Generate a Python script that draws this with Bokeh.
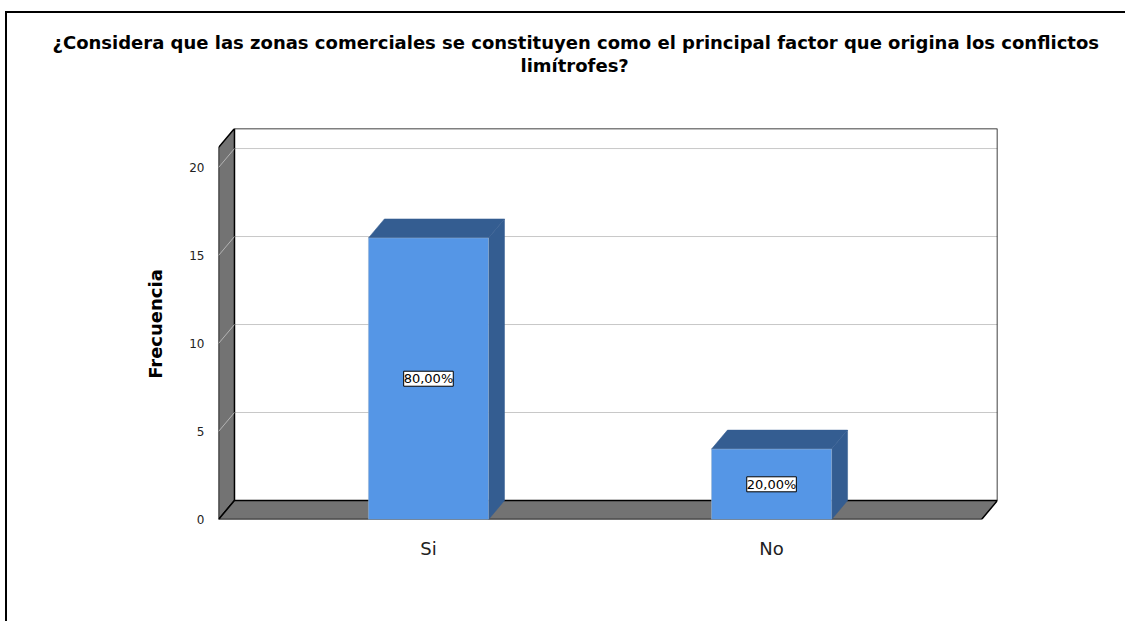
from bokeh.plotting import figure
from bokeh.models import ColumnDataSource, LabelSet, Title
from bokeh.core.properties import value
from bokeh.embed import file_html
from bokeh.resources import INLINE

# ---------------- data ----------------
title_lines = ["¿Considera que las zonas comerciales se constituyen como el principal factor que origina los conflictos",
               "limítrofes?"]
categories = ["Si", "No"]
counts = [16, 4]
percent_labels = ["80,00%", "20,00%"]
y_ticks = [0, 5, 10, 15, 20]
y_label = "Frecuencia"

# ---------------- style / geometry ----------------
FONT = "DejaVu Sans"
BAR_W = 0.35          # bar width in category units
DX = 0.0466           # 3D depth offset (x units)
DY = 1.08             # 3D depth offset (y units)
WALL_H = 21.14        # wall height (front)
PAD = 0.612           # floor extends this far beyond bar centres
FRONT = "#5596e6"
SHADE = "#345d91"
WALL = "#737373"
GRID = "#c8c8c8"

pos = [i + 0.5 for i in range(len(categories))]
X0 = pos[0] - PAD
X1 = pos[-1] + PAD

p = figure(width=1120, height=610, x_range=(X0, X1 + DX), y_range=(0, WALL_H + DY),
           output_backend="svg", toolbar_location=None, title=None,
           min_border_left=211, min_border_right=130, min_border_top=115, min_border_bottom=104)
p.styles = {"border-left": "2px solid black", "border-top": "2px solid black",
            "margin-left": "5px", "margin-top": "11px"}
p.outline_line_color = None
p.xgrid.visible = False
p.ygrid.visible = False
p.background_fill_color = "white"
p.border_fill_color = "white"

# back wall
p.quad(left=X0 + DX, right=X1 + DX, bottom=DY, top=WALL_H + DY, fill_color="white", line_color=None)
gt = y_ticks[1:]
p.segment(x0=[X0 + DX] * len(gt), y0=[t + DY for t in gt], x1=[X1 + DX] * len(gt), y1=[t + DY for t in gt],
          line_color=GRID, line_width=1)
p.line([X0 + DX, X1 + DX, X1 + DX], [WALL_H + DY, WALL_H + DY, DY], line_color="black", line_width=1.5)

# left wall
p.patch([X0, X0, X0 + DX, X0 + DX], [0, WALL_H, WALL_H + DY, DY], fill_color=WALL, line_color="black", line_width=1.5)
p.segment(x0=[X0] * len(gt), y0=gt, x1=[X0 + DX] * len(gt), y1=[t + DY for t in gt],
          line_color="#b4b4b4", line_width=1)

# floor
p.patch([X0, X1, X1 + DX, X0 + DX], [0, 0, DY, DY], fill_color=WALL, line_color="black", line_width=1.5)

# bars
lefts = [c - BAR_W / 2 for c in pos]
rights = [c + BAR_W / 2 for c in pos]
sides_x = [[r, r, r + DX, r + DX] for r in rights]
sides_y = [[0, v, v + DY, DY] for v in counts]
tops_x = [[l, r, r + DX, l + DX] for l, r in zip(lefts, rights)]
tops_y = [[v, v, v + DY, v + DY] for v in counts]
p.patches(sides_x, sides_y, fill_color=SHADE, line_color=SHADE, line_width=0.5)
p.patches(tops_x, tops_y, fill_color=SHADE, line_color=SHADE, line_width=0.5)
p.quad(left=lefts, right=rights, bottom=0, top=counts, fill_color=FRONT, line_color="#9fb4cc", line_width=0.5)

src = ColumnDataSource(dict(x=pos, y=[v / 2 for v in counts], text=percent_labels))
labels = LabelSet(x="x", y="y", text="text", source=src, text_align="center", text_baseline="middle",
                  text_font=value(FONT), text_font_size=value("13px"), text_color="black",
                  background_fill_color="white", border_line_color="black", border_line_width=1)
p.add_layout(labels)

# axes
p.yaxis.ticker = y_ticks
p.yaxis.axis_line_color = None
p.yaxis.major_tick_line_color = None
p.yaxis.minor_tick_line_color = None
p.yaxis.major_label_text_font = FONT
p.yaxis.major_label_text_font_size = "12px"
p.yaxis.major_label_text_color = "#222222"
p.yaxis.major_label_standoff = 8
p.yaxis.axis_label = y_label
p.yaxis.axis_label_text_font = FONT
p.yaxis.axis_label_text_font_style = "bold"
p.yaxis.axis_label_text_font_size = "18px"
p.yaxis.axis_label_text_color = "black"
p.yaxis.axis_label_standoff = 20

p.xaxis.ticker = pos
p.xaxis.major_label_overrides = {c: n for c, n in zip(pos, categories)}
p.xaxis.axis_line_color = None
p.xaxis.major_tick_line_color = None
p.xaxis.minor_tick_line_color = None
p.xaxis.major_label_text_font = FONT
p.xaxis.major_label_text_font_size = "18px"
p.xaxis.major_label_text_color = "#222222"
p.xaxis.major_label_standoff = 12

# spacer between frame and title block
p.add_layout(Title(text=" ", standoff=30, text_font=FONT, text_font_size="18px"), "above")
# title: two lines, added bottom line first; left aligned with offsets to centre them at x~579
for line, off in zip(reversed(title_lines), [302, -166]):
    p.add_layout(Title(text=line, align="left", offset=off, standoff=0, text_font=FONT,
                       text_font_size="18px", text_font_style="bold", text_color="black"), "above")

open("out.html", "w").write(file_html(p, INLINE))
